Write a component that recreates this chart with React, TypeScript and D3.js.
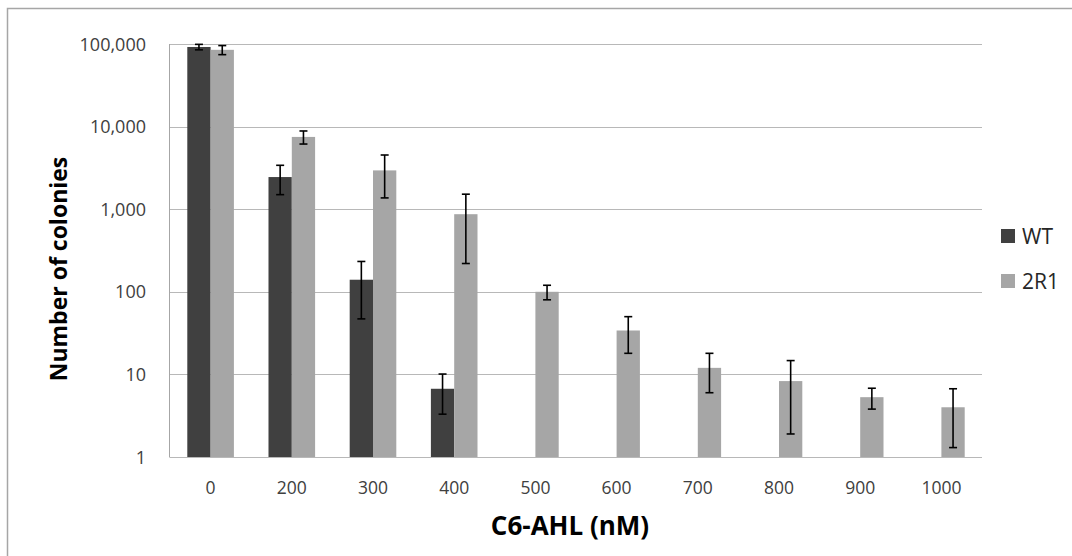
import React, { useEffect, useRef } from 'react';
import * as d3 from 'd3';

const categories = ['0', '200', '300', '400', '500', '600', '700', '800', '900', '1000'];
const wtValues = [92000, 2450, 140, 6.7, null, null, null, null, null, null];
const wtErrors = [7000, 950, 93, 3.4, null, null, null, null, null, null];
const r1Values = [85000, 7500, 2950, 870, 100, 34, 12, 8.3, 5.3, 4];
const r1Errors = [10700, 1350, 1580, 650, 20, 16, 6, 6.4, 1.5, 2.7];
const yTicks = [1, 10, 100, 1000, 10000, 100000];
const seriesNames = ['WT', '2R1'];

const App = () => {
  const ref = useRef<SVGSVGElement>(null);

  useEffect(() => {
    const svg = d3.select(ref.current);
    svg.selectAll('*').remove();

    const width = 1072;
    const height = 556;
    const margin = { top: 44, right: 90, bottom: 99, left: 170 };
    const font = '"Open Sans", sans-serif';
    const colors = ['#404040', '#a6a6a6'];

    // outer chart border
    svg.append('rect')
      .attr('x', 7.5).attr('y', 8.5)
      .attr('width', width + 20).attr('height', height + 20)
      .attr('fill', 'white')
      .attr('stroke', '#a6a6a6').attr('stroke-width', 1.5);

    const x = d3.scaleBand()
      .domain(categories)
      .range([margin.left, width - margin.right])
      .paddingInner(0.426)
      .paddingOuter(0.213);

    const xSub = d3.scaleBand()
      .domain(seriesNames)
      .range([0, x.bandwidth()]);

    const y = d3.scaleLog()
      .domain([1, 100000])
      .range([height - margin.bottom, margin.top]);

    // gridlines
    svg.append('g')
      .selectAll('line')
      .data(yTicks)
      .enter().append('line')
      .attr('x1', margin.left).attr('x2', width - margin.right)
      .attr('y1', d => Math.round(y(d)) + 0.5).attr('y2', d => Math.round(y(d)) + 0.5)
      .attr('stroke', '#b8b8b8').attr('stroke-width', 1);

    // left axis line
    svg.append('line')
      .attr('x1', margin.left - 0.5).attr('x2', margin.left - 0.5)
      .attr('y1', y(100000)).attr('y2', y(1) + 0.5)
      .attr('stroke', '#a6a6a6');

    const series = [
      { name: 'WT', values: wtValues, errors: wtErrors },
      { name: '2R1', values: r1Values, errors: r1Errors },
    ];

    series.forEach((s, si) => {
      const pts = categories
        .map((c, i) => ({ c, v: s.values[i], e: s.errors[i] }))
        .filter(d => d.v != null);

      svg.append('g')
        .selectAll('rect')
        .data(pts)
        .enter().append('rect')
        .attr('x', d => x(d.c)! + xSub(s.name)!)
        .attr('width', xSub.bandwidth())
        .attr('y', d => y(d.v as number))
        .attr('height', d => y(1) - y(d.v as number))
        .attr('fill', colors[si]);

      const eb = svg.append('g')
        .attr('stroke', '#000')
        .attr('stroke-width', 1.6);

      pts.forEach(d => {
        const cx = x(d.c)! + xSub(s.name)! + xSub.bandwidth() / 2;
        const hi = y((d.v as number) + (d.e as number));
        const lo = y((d.v as number) - (d.e as number));
        eb.append('line').attr('x1', cx).attr('x2', cx).attr('y1', hi).attr('y2', lo);
        eb.append('line').attr('x1', cx - 4).attr('x2', cx + 4).attr('y1', hi).attr('y2', hi);
        eb.append('line').attr('x1', cx - 4).attr('x2', cx + 4).attr('y1', lo).attr('y2', lo);
      });
    });

    // y tick labels
    svg.append('g')
      .selectAll('text')
      .data(yTicks)
      .enter().append('text')
      .attr('x', 146)
      .attr('y', d => y(d) + 6.5)
      .attr('text-anchor', 'end')
      .attr('font-family', font)
      .attr('font-size', 18)
      .attr('fill', '#404040')
      .text(d => d3.format(',')(d));

    // x tick labels
    svg.append('g')
      .selectAll('text')
      .data(categories)
      .enter().append('text')
      .attr('x', d => x(d)! + x.bandwidth() / 2)
      .attr('y', 494)
      .attr('text-anchor', 'middle')
      .attr('font-family', font)
      .attr('font-size', 17.5)
      .attr('fill', '#404040')
      .text(d => d);

    // axis titles
    svg.append('text')
      .attr('x', 570).attr('y', 535)
      .attr('text-anchor', 'middle')
      .attr('font-family', font)
      .attr('font-weight', 'bold')
      .attr('font-size', 26)
      .attr('fill', '#000')
      .text('C6-AHL (nM)');

    svg.append('text')
      .attr('transform', 'translate(67,269) rotate(-90)')
      .attr('text-anchor', 'middle')
      .attr('font-family', font)
      .attr('font-weight', 'bold')
      .attr('font-size', 23)
      .attr('fill', '#000')
      .text('Number of colonies');

    // legend
    const legend = svg.append('g')
      .selectAll('g')
      .data(seriesNames)
      .enter().append('g')
      .attr('transform', (d, i) => `translate(1001,${229 + i * 45})`);

    legend.append('rect')
      .attr('width', 14).attr('height', 14)
      .attr('fill', (d, i) => colors[i]);

    legend.append('text')
      .attr('x', 21).attr('y', 15)
      .attr('font-family', font)
      .attr('font-size', 21)
      .attr('fill', '#262626')
      .text(d => d);
  }, []);

  return (
    <svg
      ref={ref}
      width={1072}
      height={556}
      style={{ position: 'absolute', left: 0, top: 0, background: 'white' }}
    />
  );
};

export default App;
